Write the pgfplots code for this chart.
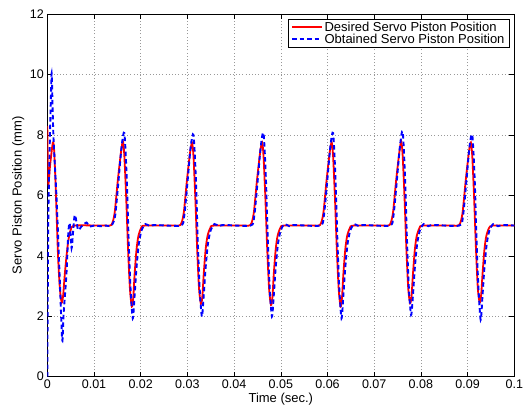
\documentclass[border=0pt]{standalone}
\usepackage{fontspec}
\setmainfont{Liberation Sans}
\usepackage{pgfplots}
\pgfplotsset{compat=1.18}
\usetikzlibrary{calc}

\begin{document}
\begin{tikzpicture}
\begin{axis}[
  scale only axis,
  width=467pt, height=362.7pt,
  xmin=0, xmax=0.1,
  ymin=0, ymax=12,
  xtick={0,0.01,0.02,0.03,0.04,0.05,0.06,0.07,0.08,0.09,0.1},
  ytick={0,2,4,6,8,10,12},
  scaled x ticks=false,
  xticklabel style={/pgf/number format/fixed, /pgf/number format/precision=2},
  /pgf/number format/assume math mode=true,
  tick label style={font=\fontsize{12.5}{14}\selectfont},
  xlabel={Time (sec.)},
  ylabel={Servo Piston Position (mm)},
  every axis x label/.style={at={(axis description cs:0.5,0)}, anchor=north, yshift=-16.5pt, font=\fontsize{13}{15}\selectfont, inner sep=0pt},
  every axis y label/.style={at={(axis description cs:-0.062,0.5)}, anchor=center, rotate=90, font=\fontsize{13}{15}\selectfont},
  tick align=inside,
  major tick length=5pt,
  tick style={black, line width=0.5pt},
  axis line style={black, line width=0.8pt},
  xmajorgrids, ymajorgrids,
  grid style={gray!80, line width=0.5pt, dash pattern=on 0.8pt off 2.4pt},
  legend style={at={(1,1)}, anchor=north east, xshift=-5pt, yshift=-5pt,
    draw=black, line width=0.6pt, font=\fontsize{13}{15}\selectfont,
    inner xsep=3pt, inner ysep=1pt, row sep=-2pt,
    nodes={inner xsep=1.5pt, inner ysep=1.5pt}},
  legend cell align=left,
  legend image code/.code={\draw[#1] (0pt,0pt) -- (30pt,0pt);},
]
\addplot[red, line width=1.8pt, smooth, tension=0.45] coordinates {
(0,8.3) (0.0002,6.4) (0.0006,7.0) (0.0012,7.75) (0.0015,7.4) (0.0019,5.8)
(0.0023,4.0) (0.0027,2.9) (0.0031,2.45) (0.0034,2.7) (0.0037,3.3) (0.0041,3.97)
(0.0045,4.5) (0.0050,4.85) (0.0059,5.0)
(0.0122,5.0) (0.0137,5.02) (0.0144,5.4) (0.0151,6.5) (0.0158,7.45) (0.0162,7.78)
(0.0165,7.3) (0.0169,5.9) (0.0173,4.2) (0.0177,2.9) (0.0181,2.32) (0.0184,2.6)
(0.0187,3.4) (0.0191,4.2) (0.0195,4.65) (0.0201,4.92) (0.0209,5.0)
(0.0270,5.0) (0.0285,5.02) (0.0292,5.4) (0.0299,6.5) (0.0306,7.45) (0.0310,7.73)
(0.0313,7.3) (0.0317,5.9) (0.0321,4.2) (0.0325,2.9) (0.0329,2.41) (0.0332,2.65)
(0.0335,3.4) (0.0339,4.2) (0.0343,4.65) (0.0349,4.92) (0.0357,5.0)
(0.0420,5.0) (0.0435,5.02) (0.0442,5.4) (0.0449,6.5) (0.0456,7.45) (0.0460,7.75)
(0.0463,7.3) (0.0467,5.9) (0.0471,4.2) (0.0475,2.9) (0.0479,2.37) (0.0482,2.62)
(0.0485,3.4) (0.0489,4.2) (0.0493,4.65) (0.0499,4.92) (0.0507,5.0)
(0.0569,5.0) (0.0584,5.02) (0.0591,5.4) (0.0598,6.5) (0.0605,7.45) (0.0609,7.75)
(0.0612,7.3) (0.0616,5.9) (0.0620,4.2) (0.0624,2.9) (0.0628,2.32) (0.0631,2.6)
(0.0634,3.4) (0.0638,4.2) (0.0642,4.65) (0.0648,4.92) (0.0656,5.0)
(0.0718,5.0) (0.0733,5.02) (0.0740,5.4) (0.0747,6.5) (0.0754,7.45) (0.0758,7.78)
(0.0761,7.3) (0.0765,5.9) (0.0769,4.2) (0.0773,2.9) (0.0777,2.43) (0.0780,2.68)
(0.0783,3.4) (0.0787,4.2) (0.0791,4.65) (0.0797,4.92) (0.0805,5.0)
(0.0867,5.0) (0.0882,5.02) (0.0889,5.4) (0.0896,6.5) (0.0903,7.45) (0.0907,7.75)
(0.0910,7.3) (0.0914,5.9) (0.0918,4.2) (0.0922,2.9) (0.0926,2.45) (0.0929,2.7)
(0.0932,3.4) (0.0936,4.2) (0.0940,4.65) (0.0946,4.92) (0.0954,5.0) (0.1,5.0)
};
\addlegendentry{Desired Servo Piston Position}
\addplot[blue, line width=1.9pt, dash pattern=on 4.5pt off 3pt, smooth, tension=0.45] coordinates {
(0,0) (0.0002,5.0) (0.0005,7.5) (0.0008,9.4) (0.00095,10.0) (0.0013,8.0)
(0.0020,5.85) (0.0027,3.1) (0.0032,1.2) (0.0035,2.1) (0.0041,3.4) (0.0045,4.75)
(0.0048,5.08) (0.0052,4.25) (0.0055,4.75) (0.0059,5.35) (0.0066,4.86)
(0.0073,4.97) (0.0084,5.1) (0.0091,4.97) (0.0100,5.0) (0.0115,4.98) (0.0125,5.0)
(0.0137,5.0) (0.0145,5.3) (0.0152,6.4) (0.0159,7.6) (0.0165,8.06) (0.0170,6.6)
(0.0174,4.6) (0.0178,3.0) (0.0183,1.93) (0.0187,2.7) (0.0191,3.6) (0.0196,4.4)
(0.0202,4.85) (0.0210,5.05) (0.0220,4.98) (0.0230,5.02)
(0.0285,5.0) (0.0293,5.3) (0.0300,6.4) (0.0307,7.6) (0.0313,8.0) (0.0318,6.6)
(0.0322,4.6) (0.0326,3.0) (0.0331,1.99) (0.0335,2.7) (0.0339,3.6) (0.0344,4.4)
(0.0350,4.85) (0.0358,5.05) (0.0368,4.98) (0.0378,5.02)
(0.0435,5.0) (0.0443,5.3) (0.0450,6.4) (0.0457,7.6) (0.0463,8.06) (0.0468,6.6)
(0.0472,4.6) (0.0476,3.0) (0.0481,1.99) (0.0485,2.7) (0.0489,3.6) (0.0494,4.4)
(0.0500,4.85) (0.0508,5.05) (0.0518,4.98) (0.0528,5.02)
(0.0584,5.0) (0.0592,5.3) (0.0599,6.4) (0.0606,7.6) (0.0612,8.06) (0.0617,6.6)
(0.0621,4.6) (0.0625,3.0) (0.0630,1.93) (0.0634,2.7) (0.0638,3.6) (0.0643,4.4)
(0.0649,4.85) (0.0657,5.05) (0.0667,4.98) (0.0677,5.02)
(0.0733,5.0) (0.0741,5.3) (0.0748,6.4) (0.0755,7.6) (0.0761,8.11) (0.0766,6.6)
(0.0770,4.6) (0.0774,3.0) (0.0779,2.04) (0.0783,2.7) (0.0787,3.6) (0.0792,4.4)
(0.0798,4.85) (0.0806,5.05) (0.0816,4.98) (0.0826,5.02)
(0.0882,5.0) (0.0890,5.3) (0.0897,6.4) (0.0904,7.6) (0.0910,8.0) (0.0915,6.6)
(0.0919,4.6) (0.0923,3.0) (0.0928,1.88) (0.0932,2.7) (0.0936,3.6) (0.0941,4.4)
(0.0947,4.85) (0.0955,5.05) (0.0965,4.98) (0.0975,5.02) (0.1,5.0)
};
\addlegendentry{Obtained Servo Piston Position}
\end{axis}
\pgfresetboundingbox
\useasboundingbox ($(current axis.south west)+(-47.3pt,-29.3pt)$) rectangle ($(current axis.north east)+(8.7pt,14pt)$);
\end{tikzpicture}
\end{document}
